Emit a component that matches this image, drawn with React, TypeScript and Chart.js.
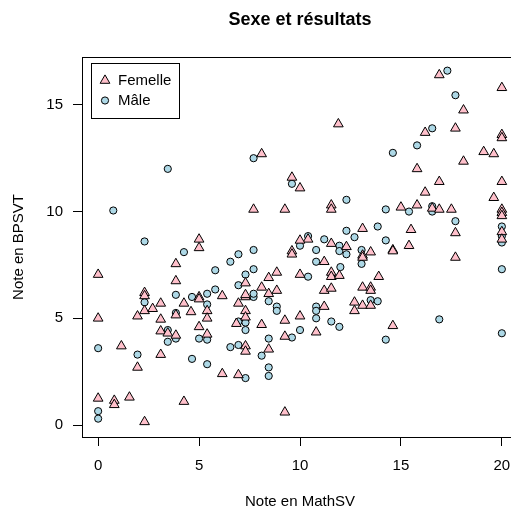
import React, { useEffect, useRef } from 'react';
import { Chart, registerables } from 'chart.js';

Chart.register(...registerables);

const chartTitle = 'Sexe et résultats';
const xAxisLabel = 'Note en MathSV';
const yAxisLabel = 'Note en BPSVT';
const seriesNames = ['Femelle', 'Mâle'];
const xTicks = [0, 5, 10, 15, 20];
const yTicks = [0, 5, 10, 15];

// Femelle: (MathSV, BPSVT)
const femaleMath = [
  11.9, 8.1, 9.6, 10.0, 16.9, 20.0, 18.1, 16.2, 17.7, 20.0, 20.0, 19.1, 19.6, 18.1, 15.8, 16.9, 20.0, 16.2, 19.6, 15.0,
  15.8, 16.55, 16.9, 17.5, 17.7, 13.1, 15.5, 14.6, 14.6, 15.4, 17.7, 20.0, 20.0, 20.0, 20.0, 20.0, 13.1, 13.5, 13.9, 13.1,
  13.5, 13.5, 13.1, 13.5, 14.6, 5.0, 5.0, 3.85, 0.0, 3.85, 2.3, 2.3, 5.0, 5.0, 6.15, 3.1, 4.25, 2.3, 2.7, 0.0,
  1.95, 3.85, 4.6, 5.4, 5.4, 3.1, 5.0, 3.1, 3.45, 3.85, 5.4, 1.15, 3.1, 1.95, 6.15, 0.0, 0.8, 0.8, 1.55, 4.25,
  2.3, 6.95, 7.3, 7.3, 7.3, 6.85, 8.1, 9.25, 10.0, 11.2, 10.8, 9.25, 8.45, 7.3, 7.3, 6.95, 9.25, 12.7, 12.7, 7.7,
  9.25, 11.55, 11.55, 10.4, 10.0, 11.55, 12.3, 9.6, 9.6, 13.1, 11.2, 7.3, 8.45, 8.85, 10.0, 11.55, 11.55, 11.95, 8.1, 7.3,
  8.45, 8.85, 11.2, 11.55,
];
const femaleBPSVT = [
  14.1, 12.7, 11.6, 11.1, 16.4, 15.8, 14.75, 13.7, 13.9, 13.6, 13.45, 12.8, 12.7, 12.35, 12.0, 11.4, 11.4, 10.9, 10.65, 10.2,
  10.3, 10.15, 10.1, 10.1, 9.0, 9.2, 9.15, 8.2, 8.15, 8.4, 7.85, 10.1, 9.95, 9.8, 9.05, 8.7, 7.95, 8.1, 6.95, 6.45,
  6.45, 6.3, 5.6, 5.6, 4.65, 8.7, 8.3, 7.55, 7.05, 6.75, 6.2, 6.05, 6.0, 5.9, 6.05, 5.7, 5.7, 5.35, 5.45, 5.0,
  5.1, 5.15, 5.3, 5.35, 5.0, 4.95, 4.6, 4.4, 4.3, 4.2, 4.25, 3.7, 3.3, 2.7, 2.4, 1.25, 1.15, 0.95, 1.3, 1.1,
  0.15, 5.7, 5.35, 6.0, 5.05, 4.75, 4.7, 4.9, 5.1, 5.55, 4.35, 4.15, 3.55, 3.7, 3.45, 2.35, 0.6, 5.75, 5.35, 10.1,
  10.1, 10.3, 10.1, 8.7, 8.65, 8.5, 8.35, 8.15, 8.0, 7.85, 7.65, 6.65, 6.9, 7.15, 7.05, 7.15, 6.95, 7.0, 6.45, 6.1,
  6.15, 6.3, 6.3, 6.4,
];

// Mâle: (MathSV, BPSVT)
const maleMath = [
  3.45, 7.7, 9.6, 17.3, 17.7, 16.55, 15.8, 14.6, 14.25, 15.4, 16.55, 16.55, 17.7, 13.85, 14.25, 20.0, 20.0, 20.0, 20.0, 13.05,
  13.05, 13.5, 13.85, 16.9, 14.25, 20.0, 0.75, 2.3, 4.25, 6.55, 5.8, 3.85, 4.65, 5.4, 5.8, 2.3, 5.4, 3.85, 3.45, 3.85,
  3.45, 5.0, 5.4, 6.55, 0.0, 1.95, 4.65, 5.4, 0.0, 0.0, 7.7, 8.45, 8.85, 8.85, 6.95, 7.3, 7.3, 10.8, 10.8, 10.8,
  11.55, 11.95, 10.0, 9.6, 8.45, 6.95, 8.1, 7.3, 8.45, 8.45, 12.3, 12.3, 12.7, 10.4, 11.2, 10.0, 11.95, 10.8, 11.95, 12.3,
  10.8, 12.0, 7.7, 6.95, 7.3, 7.7, 6.95, 10.4, 11.55, 7.7,
];
const maleBPSVT = [
  12.0, 12.5, 11.3, 16.6, 15.45, 13.9, 13.1, 12.75, 10.1, 10.0, 10.25, 10.0, 9.55, 9.3, 8.65, 9.3, 8.85, 8.55, 7.3, 8.2,
  7.55, 5.85, 5.8, 4.95, 4.0, 4.3, 10.05, 8.6, 8.1, 7.65, 7.25, 6.1, 6.0, 6.15, 6.35, 5.75, 5.65, 5.25, 4.45, 4.05,
  3.9, 4.05, 4.0, 3.65, 3.6, 3.3, 3.1, 2.85, 0.65, 0.3, 6.0, 5.8, 5.55, 5.35, 4.85, 4.8, 4.45, 5.55, 5.35, 5.0,
  4.85, 4.6, 4.45, 4.1, 4.05, 3.75, 3.25, 2.2, 2.7, 2.3, 10.55, 9.1, 8.8, 8.85, 8.7, 8.4, 8.4, 8.2, 8.15, 8.0,
  7.65, 7.4, 8.2, 8.0, 7.05, 7.3, 6.55, 6.95, 7.05, 6.15,
];

const FONT = '"Liberation Sans", Arial, Helvetica, sans-serif';
const FEMALE_FILL = '#FFC0CB';
const MALE_FILL = '#ADD8E6';
const TRI_R = 5.6;
const CIRC_R = 3.6;

const framePlugin = {
  id: 'rframe',
  afterDatasetsDraw(chart: any) {
    const { ctx, chartArea: a } = chart;
    ctx.save();
    ctx.strokeStyle = '#000';
    ctx.lineWidth = 1;
    const l = Math.round(a.left) + 0.5;
    const t = Math.round(a.top) + 0.5;
    const r = Math.round(a.right) + 0.5;
    const b = Math.round(a.bottom) + 0.5;
    ctx.strokeRect(l, t, r - l, b - t);
    ctx.restore();
  },
};

function drawTriangle(ctx: CanvasRenderingContext2D, x: number, y: number, r: number) {
  ctx.beginPath();
  let rad = 0;
  ctx.moveTo(x + Math.sin(rad) * r, y - Math.cos(rad) * r);
  rad += (2 * Math.PI) / 3;
  ctx.lineTo(x + Math.sin(rad) * r, y - Math.cos(rad) * r);
  rad += (2 * Math.PI) / 3;
  ctx.lineTo(x + Math.sin(rad) * r, y - Math.cos(rad) * r);
  ctx.closePath();
  ctx.fillStyle = FEMALE_FILL;
  ctx.fill();
  ctx.stroke();
}

function drawCircle(ctx: CanvasRenderingContext2D, x: number, y: number, r: number) {
  ctx.beginPath();
  ctx.arc(x, y, r, 0, Math.PI * 2);
  ctx.fillStyle = MALE_FILL;
  ctx.fill();
  ctx.stroke();
}

const legendPlugin = {
  id: 'rlegend',
  afterDraw(chart: any) {
    const { ctx, chartArea: a } = chart;
    const left = Math.round(a.left) + 9;
    const top = Math.round(a.top) + 6;
    const w = 88;
    const h = 55;
    ctx.save();
    ctx.fillStyle = '#fff';
    ctx.fillRect(left, top, w, h);
    ctx.strokeStyle = '#000';
    ctx.lineWidth = 1;
    ctx.strokeRect(left + 0.5, top + 0.5, w, h);
    drawTriangle(ctx, left + 14, top + 17.5, TRI_R);
    drawCircle(ctx, left + 14, top + 37.5, CIRC_R);
    ctx.fillStyle = '#000';
    ctx.font = '15px ' + FONT;
    ctx.textAlign = 'left';
    ctx.textBaseline = 'middle';
    ctx.fillText(seriesNames[0], left + 27, top + 18);
    ctx.fillText(seriesNames[1], left + 27, top + 38);
    ctx.restore();
  },
};

export default function App() {
  const canvasRef = useRef<HTMLCanvasElement | null>(null);

  useEffect(() => {
    const canvas = canvasRef.current;
    if (!canvas) return;
    Chart.defaults.font.family = FONT;
    Chart.defaults.color = '#000';

    const femaleData = femaleMath.map((x, i) => ({ x, y: femaleBPSVT[i] }));
    const maleData = maleMath.map((x, i) => ({ x, y: maleBPSVT[i] }));

    const chart = new Chart(canvas, {
      type: 'scatter',
      data: {
        datasets: [
          {
            label: seriesNames[0],
            data: femaleData,
            pointStyle: 'triangle',
            pointRadius: TRI_R,
            backgroundColor: FEMALE_FILL,
            borderColor: '#000',
            borderWidth: 1,
          },
          {
            label: seriesNames[1],
            data: maleData,
            pointStyle: 'circle',
            pointRadius: CIRC_R,
            backgroundColor: MALE_FILL,
            borderColor: '#000',
            borderWidth: 1,
          },
        ],
      },
      options: {
        animation: false,
        responsive: false,
        devicePixelRatio: 1,
        events: [],
        layout: { padding: { left: 0, right: 12, top: 0, bottom: 0 } },
        plugins: {
          legend: { display: false },
          tooltip: { enabled: false },
          title: {
            display: true,
            text: chartTitle,
            fullSize: false,
            color: '#000',
            font: { size: 18, weight: 'bold', family: FONT },
            padding: { top: 9.5, bottom: 25.9 },
          },
        },
        scales: {
          x: {
            type: 'linear',
            min: -0.8,
            max: 20.8,
            afterBuildTicks: (s: any) => {
              s.ticks = xTicks.map((v) => ({ value: v }));
            },
            afterFit: (s: any) => {
              s.height = 74;
            },
            grid: {
              display: true,
              drawOnChartArea: false,
              drawTicks: true,
              tickLength: 9,
              tickColor: '#000',
              tickWidth: 1,
            },
            border: { display: true, color: '#000', width: 1 },
            ticks: {
              color: '#000',
              padding: 11,
              font: { size: 15, family: FONT },
              maxRotation: 0,
              autoSkip: false,
              callback: (v: any) => String(v),
            },
            title: {
              display: true,
              text: xAxisLabel,
              color: '#000',
              font: { size: 15, family: FONT },
              padding: { top: 0, bottom: 0.5 },
            },
          },
          y: {
            type: 'linear',
            min: -0.56,
            max: 17.24,
            afterBuildTicks: (s: any) => {
              s.ticks = yTicks.map((v) => ({ value: v }));
            },
            afterFit: (s: any) => {
              s.width = 82;
            },
            grid: {
              display: true,
              drawOnChartArea: false,
              drawTicks: true,
              tickLength: 9,
              tickColor: '#000',
              tickWidth: 1,
            },
            border: { display: true, color: '#000', width: 1 },
            ticks: {
              color: '#000',
              padding: 10,
              font: { size: 15, family: FONT },
              autoSkip: false,
              callback: (v: any) => String(v),
            },
            title: {
              display: true,
              text: yAxisLabel,
              color: '#000',
              font: { size: 15, family: FONT },
              padding: { top: 9.5, bottom: 0 },
            },
          },
        },
      },
      plugins: [framePlugin, legendPlugin],
    } as any);

    return () => {
      chart.destroy();
    };
  }, []);

  return (
    <div
      style={{
        position: 'absolute',
        left: 0,
        top: 0,
        width: 511,
        height: 511,
        overflow: 'hidden',
        background: '#fff',
      }}
    >
      <canvas ref={canvasRef} width={530} height={511} style={{ width: 530, height: 511, display: 'block' }} />
    </div>
  );
}
